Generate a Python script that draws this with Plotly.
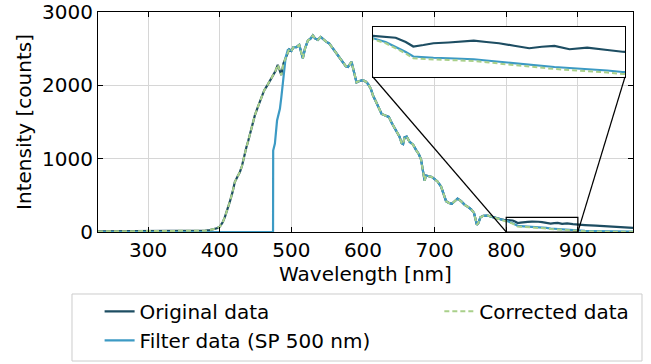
import plotly.graph_objects as go

# ---------------- data ----------------
# Rising edge of the unfiltered spectrum (Original data == Corrected data here)
rise_wl = [230, 260, 300, 340, 370, 380, 386, 391, 396, 400, 404, 407, 411, 414, 418, 421,
           425, 428, 431, 434, 437, 440, 445, 449, 453, 458, 462, 467, 471, 475, 478, 481,
           484, 486, 489, 493]
rise_vals = [8, 8, 8, 9, 12, 18, 26, 33, 50, 72, 130, 200, 310, 410, 550, 680,
             760, 815, 900, 1040, 1150, 1250, 1440, 1590, 1700, 1830, 1930, 2010, 2080, 2140, 2200, 2280,
             2200, 2140, 2300, 2390]

# Filter data (SP 500 nm) rising edge
filt_rise_wl = [230, 300, 400, 474.4, 474.6, 477, 480, 484, 486, 489, 492, 495]
filt_rise_vals = [0, 0, 0, 0, 1110, 1205, 1520, 1680, 1840, 2090, 2380, 2480]

# Main body of the spectrum, shared by all three series
mid_wl = [497, 500, 503, 507, 511, 514, 516, 519, 523, 527, 530, 533, 537, 541, 544, 548,
          553, 558, 563, 568, 572, 576, 579, 582, 584, 587, 591, 595, 600, 604, 607, 611,
          614, 618, 622, 626, 631, 636, 640, 644, 648, 651, 654, 656, 658, 661, 665, 670,
          674, 678, 681, 684, 686, 688, 692, 696, 700, 704, 709, 713, 716, 720, 724, 728,
          732, 737, 742, 747, 751, 755, 757, 759, 761, 764, 768, 774, 779, 784, 789]
mid_vals = [2490, 2470, 2520, 2520, 2550, 2440, 2370, 2500, 2610, 2640, 2680, 2640, 2620, 2660, 2630, 2600,
            2570, 2500, 2430, 2360, 2300, 2260, 2250, 2300, 2320, 2200, 2040, 2060, 2070, 2050, 2020, 1950,
            1860, 1780, 1700, 1610, 1590, 1570, 1490, 1420, 1340, 1300, 1210, 1200, 1290, 1300, 1230, 1190,
            1120, 1060, 990, 780, 700, 770, 760, 750, 720, 690, 620, 520, 420, 395, 385, 420,
            455, 420, 370, 340, 310, 260, 180, 100, 120, 200, 220, 225, 210, 195, 182]

# Near-infrared tails (where the three series separate)
tail_wl = [793, 797, 800, 805, 809, 813, 816, 820, 824, 830, 836, 840, 845, 850, 856, 862,
           867, 872, 878, 885, 893, 899, 910, 925, 940, 955, 965, 977]
orig_tail_vals = [172, 167, 165, 162, 157, 140, 122, 128, 135, 138, 142, 145, 140, 135, 125, 115,
                  121, 124, 111, 117, 108, 101, 95, 86, 78, 68, 62, 55]
filt_tail_vals = [165, 160, 155, 140, 121, 100, 82, 79, 77, 75, 73, 71, 66, 61, 56, 48,
                  44, 40, 36, 32, 26, 20, 16, 12, 9, 7, 5, 4]
corr_tail_vals = [163, 157, 151, 135, 115, 94, 75, 72, 70, 68, 66, 64, 59, 54, 48, 40,
                  36, 32, 28, 24, 18, 12, 9, 6, 4, 3, 2, 2]

x_ticks = [300, 400, 500, 600, 700, 800, 900]
y_ticks = [0, 1000, 2000, 3000]
x_range = [230, 977]
y_range = [0, 3000]
zoom_x = [800, 900]
zoom_y = [0, 200]

# ---------------- series ----------------
orig_x = rise_wl + mid_wl + tail_wl
orig_y = rise_vals + mid_vals + orig_tail_vals
filt_x = filt_rise_wl + mid_wl + tail_wl
filt_y = filt_rise_vals + mid_vals + filt_tail_vals
corr_x = rise_wl + mid_wl + tail_wl
corr_y = rise_vals + mid_vals + corr_tail_vals

C_ORIG = "#1d4d62"
C_FILT = "#3c9ac4"
C_CORR = "#a9d08a"
FONT = "DejaVu Sans"
FS = 20

fig = go.Figure()
for axes, show in ((("x", "y"), True), (("x2", "y2"), False)):
    xa, ya = axes
    fig.add_trace(go.Scatter(x=orig_x, y=orig_y, mode="lines", name="Original data",
                             line=dict(color=C_ORIG, width=2.2), xaxis=xa, yaxis=ya,
                             showlegend=show, legend="legend"))
    fig.add_trace(go.Scatter(x=filt_x, y=filt_y, mode="lines", name="Filter data (SP 500 nm)",
                             line=dict(color=C_FILT, width=2.2), xaxis=xa, yaxis=ya,
                             showlegend=show, legend="legend"))
    fig.add_trace(go.Scatter(x=corr_x, y=corr_y, mode="lines", name="Corrected data",
                             line=dict(color=C_CORR, width=2, dash="5px,3px"), xaxis=xa, yaxis=ya,
                             showlegend=show, legend="legend2"))

ax_common = dict(showline=True, linecolor="black", linewidth=1.2, mirror="allticks",
                 ticks="inside", ticklen=5, tickwidth=1.2, tickcolor="black",
                 showgrid=True, gridcolor="#d6d6d6", gridwidth=1.3, zeroline=False,
                 tickfont=dict(family=FONT, size=FS, color="black"))

ins_dom_x = [0.514, 0.985]
ins_dom_y = [0.7045, 0.932]

fig.update_layout(
    width=651, height=364,
    margin=dict(l=98, r=18, t=12, b=132, autoexpand=False),
    paper_bgcolor="white", plot_bgcolor="white",
    font=dict(family=FONT, size=FS, color="black"),
    xaxis=dict(range=x_range, tickvals=x_ticks, domain=[0, 1],
               title=dict(text="Wavelength [nm]", font=dict(family=FONT, size=FS), standoff=4),
               **ax_common),
    yaxis=dict(range=y_range, tickvals=y_ticks, domain=[0, 1],
               title=dict(text="Intensity [counts]", font=dict(family=FONT, size=FS), standoff=4),
               **ax_common),
    xaxis2=dict(range=zoom_x, domain=ins_dom_x, anchor="y2", showline=True, mirror=True,
                linecolor="black", linewidth=1.2, showgrid=False, zeroline=False,
                showticklabels=False, ticks=""),
    yaxis2=dict(range=zoom_y, domain=ins_dom_y, anchor="x2", showline=True, mirror=True,
                linecolor="black", linewidth=1.2, showgrid=False, zeroline=False,
                showticklabels=False, ticks=""),
    legend=dict(x=0.003, y=-0.272, xanchor="left", yanchor="top", orientation="v",
                bgcolor="rgba(0,0,0,0)", borderwidth=0, font=dict(family=FONT, size=FS),
                tracegroupgap=0),
    legend2=dict(x=0.638, y=-0.272, xanchor="left", yanchor="top", orientation="v",
                 bgcolor="rgba(0,0,0,0)", borderwidth=0, font=dict(family=FONT, size=FS)),
)

# inset background (covers the main grid/curves behind it)
fig.add_shape(type="rect", xref="x2", yref="y2", x0=zoom_x[0], x1=zoom_x[1],
              y0=zoom_y[0], y1=zoom_y[1], fillcolor="white", line=dict(width=0), layer="below")

# zoom indicator rectangle on main axes
fig.add_shape(type="rect", xref="x", yref="y", x0=zoom_x[0], x1=zoom_x[1],
              y0=zoom_y[0], y1=zoom_y[1], line=dict(color="black", width=1.2), layer="above")

# connector lines (inset bottom corners expressed in main-axis data coordinates)
def dom_to_data(fx, fy):
    return (x_range[0] + fx * (x_range[1] - x_range[0]),
            y_range[0] + fy * (y_range[1] - y_range[0]))

bl = dom_to_data(ins_dom_x[0], ins_dom_y[0])
br = dom_to_data(ins_dom_x[1], ins_dom_y[0])
fig.add_shape(type="line", xref="x", yref="y", x0=zoom_x[0], y0=zoom_y[0], x1=bl[0], y1=bl[1],
              line=dict(color="black", width=1.2), layer="above")
fig.add_shape(type="line", xref="x", yref="y", x0=zoom_x[1], y0=zoom_y[0], x1=br[0], y1=br[1],
              line=dict(color="black", width=1.2), layer="above")

# legend frame
fig.add_shape(type="rect", xref="paper", yref="paper", x0=-0.0486, x1=1.0168, y0=-0.5864, y1=-0.2818,
              line=dict(color="#cccccc", width=1), fillcolor="rgba(0,0,0,0)", layer="above")

fig.write_html("out.html")
